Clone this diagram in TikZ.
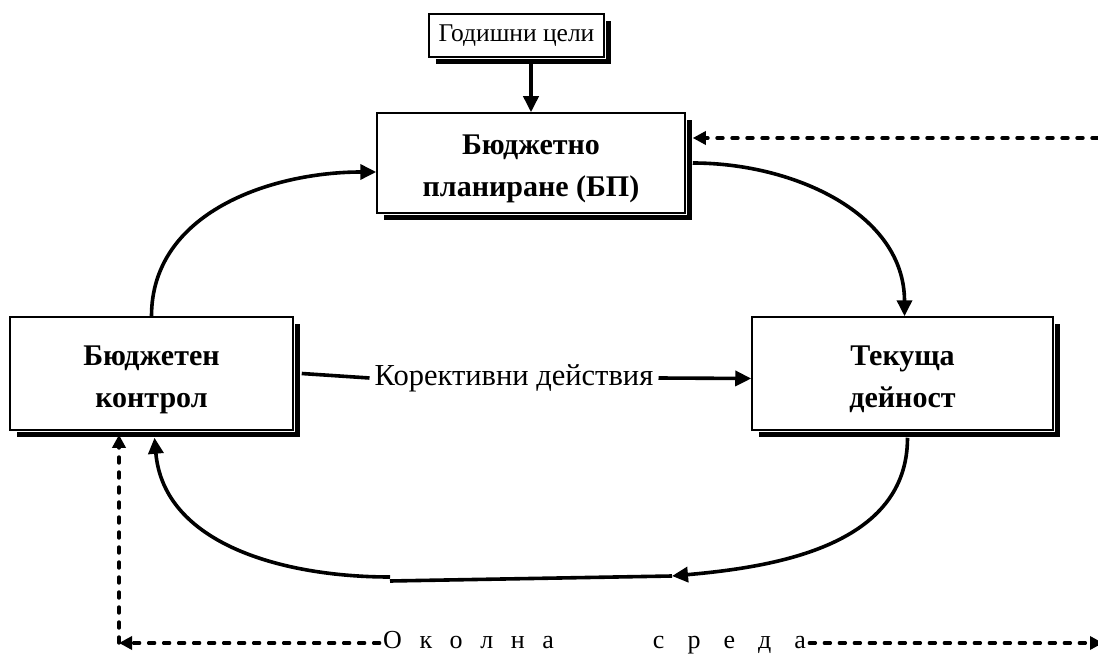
\documentclass[tikz,border=0pt]{standalone}
\usepackage{fontspec}
\setmainfont{Liberation Serif}
\usetikzlibrary{arrows.meta, positioning, calc, shadows}

\begin{document}
\begin{tikzpicture}[x=1pt, y=-1pt,
    box/.style={draw=black, line width=1.5pt, fill=white, align=center,
      drop shadow={shadow xshift=7pt, shadow yshift=-7pt, fill=black, opacity=1},
      preaction={draw=white, line width=4pt}},
    boxtext/.style={font=\bfseries\fontsize{30}{42}\selectfont,
      text height=67pt, text depth=0pt},
    flow/.style={line width=3.6pt, -{Triangle[length=16pt, width=15pt]}},
    envline/.style={line width=3.4pt, dash pattern=on 6pt off 9pt, line cap=round,
      -{Triangle[length=13pt, width=13pt]}}]
    \useasboundingbox (0,0) rectangle (1098,655);

    % Boxes
    \node[box, minimum width=175pt, minimum height=43pt, font=\fontsize{25.5}{30}\selectfont] (goals) at (516.5,35.5) {Годишни цели};
    \node[box, boxtext, minimum width=308pt, minimum height=100pt] (plan) at (531,163) {Бюджетно\\планиране (БП)};
    \node[box, boxtext, minimum width=283pt, minimum height=113pt] (control) at (151.5,373.5) {Бюджетен\\контрол};
    \node[box, boxtext, minimum width=301pt, minimum height=113pt] (current) at (902.5,373.5) {Текуща\\дейност};

    % Labels
    \node[font=\fontsize{30.5}{34}\selectfont, inner sep=5pt] (corr) at (514,378) {Корективни действия};
    \node[font=\fontsize{26}{30}\selectfont] (env) at (594.5,643)
      {{\spaceskip=17.6pt О к о л н а}\hspace{99pt}{\spaceskip=23pt с р е д а}};

    \coordinate (botR) at (672,576);
    \coordinate (botL) at (390,581);
    \coordinate (envL) at (119,643);
    \coordinate (envR) at (1103,643);

    % Goals feed the plan
    \draw[flow] ($(plan.north |- goals.south)+(0,6)$) -- (plan.north);

    % Budget cycle
    \draw[flow] (control.north) to[out=90, in=180] ($(plan.west)+(0,9)$);
    \draw[flow] ($(plan.east)+(7,0)$) to[out=0, in=90] ($(current.north)+(2,0)$);
    \draw[flow] ($(current.south)+(5,7)$) to[out=-90, in=5] (botR);
    \draw[line width=3.6pt] (botR) -- (botL);
    \draw[flow] ($(botL)+(0,-4)$) to[out=180, in=-85] ($(control.south)+(3,7)$);

    % Corrective actions
    \draw[line width=3.6pt] ($(control.east)+(8,0)$) -- (corr.west);
    \draw[flow] (corr.east) -- ($(current.west)+(0,5)$);

    % Environment
    \draw[envline] (env.west) -- (envL);
    \draw[envline] (envL) -- ($(envL |- control.south)+(0,4)$);
    \draw[envline] (env.east) -- (envR);
    \draw[envline] (envR) |- ($(plan.east)+(7,-25)$);
\end{tikzpicture}
\end{document}
